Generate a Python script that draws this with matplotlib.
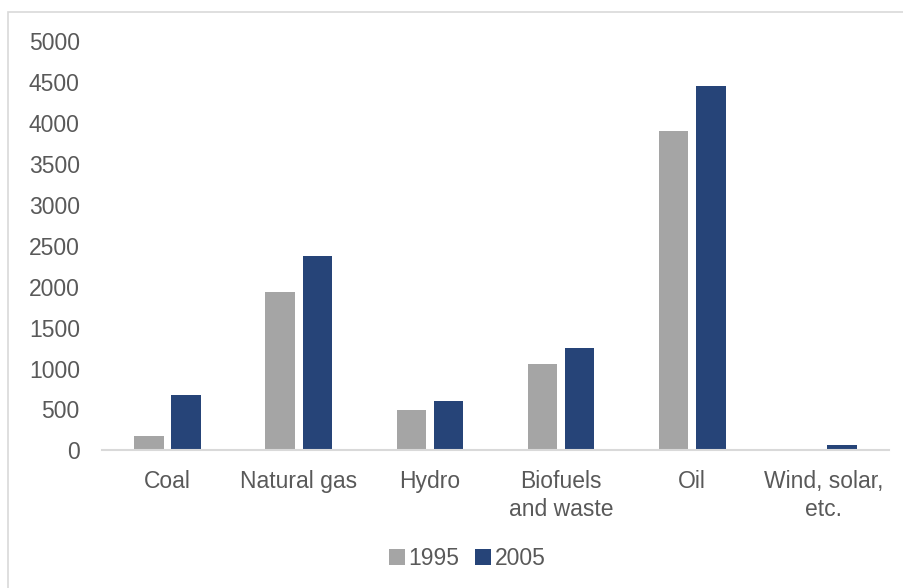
import numpy as np
import matplotlib.pyplot as plt
from matplotlib.patches import Rectangle

# Datos
categorias = ["Coal", "Natural gas", "Hydro", "Biofuels\nand waste", "Oil", "Wind, solar,\netc."]
v1995 = [170, 1935, 495, 1055, 3900, 5]
v2005 = [680, 2375, 605, 1250, 4455, 63]
anios = ["1995", "2005"]

GRIS = "#a5a5a5"
AZUL = "#264478"
TXT = "#595959"

plt.rcParams["font.family"] = ["Liberation Sans", "DejaVu Sans"]

fig = plt.figure(figsize=(9.04, 5.88), dpi=100)
ax = fig.add_axes([102 / 904, 0.234, 787 / 904, 0.696])

x = np.arange(len(categorias))
w = 0.225
ax.bar(x - 0.142, v1995, width=w, color=GRIS, label=anios[0])
ax.bar(x + 0.142, v2005, width=w, color=AZUL, label=anios[1])

ax.set_xlim(-0.5, len(categorias) - 0.5)
ax.set_ylim(0, 5000)
ax.set_yticks(np.arange(0, 5001, 500))
ax.set_xticks(x)
ax.set_xticklabels(categorias, fontsize=16.5, color=TXT, linespacing=1.3)
ax.tick_params(axis="y", labelsize=16.5, labelcolor=TXT, length=0, pad=16)
ax.tick_params(axis="x", length=0, pad=14)

for s in ["top", "right", "left"]:
    ax.spines[s].set_visible(False)
ax.spines["bottom"].set_color("#d9d9d9")
ax.spines["bottom"].set_linewidth(1.5)

leg = fig.legend(loc="center", bbox_to_anchor=(0.517, 0.05), ncol=2, frameon=False,
                 fontsize=16.5, handlelength=0.7, handleheight=0.7,
                 handletextpad=0.15, columnspacing=0.7)
for t in leg.get_texts():
    t.set_color(TXT)

# Borde
fig.patches.append(Rectangle((8 / 904, -0.1), 1.2, 1.1 - 12 / 588, transform=fig.transFigure,
                             fill=False, edgecolor="#d9d9d9", linewidth=1.2))

fig.savefig("out.png", dpi=100)
